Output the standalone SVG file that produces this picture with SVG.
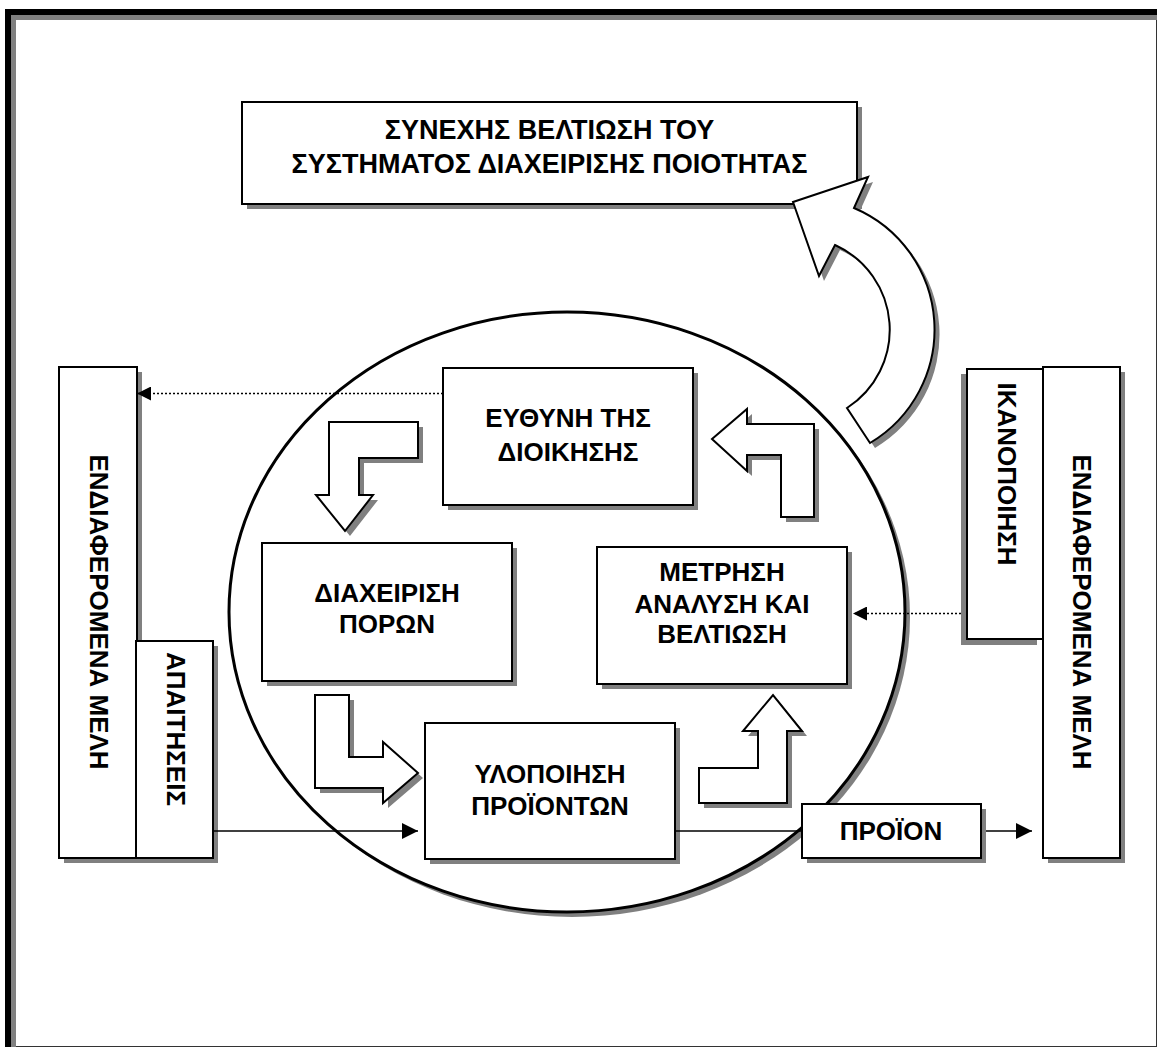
<svg xmlns="http://www.w3.org/2000/svg" xmlns:xlink="http://www.w3.org/1999/xlink" width="1158" height="1048" viewBox="0 0 1158 1048">
  <style>
    .box { fill: #ffffff; stroke: #000000; stroke-width: 2; }
    .shadow { fill: #808080; stroke: none; }
    .blk { fill: #ffffff; stroke: #000000; stroke-width: 2; stroke-linejoin: miter; }
    .lbl { font-family: "Liberation Sans", Arial, Helvetica, sans-serif; font-weight: bold; font-size: 26px; fill: #000000; text-anchor: middle; }
    .title { font-size: 27px; }
    .conn { stroke: #000000; stroke-width: 1.5; fill: none; }
    .dot { stroke: #000000; stroke-width: 1.5; stroke-dasharray: 2 2; fill: none; }
  </style>
  <defs>
    <marker id="head" viewBox="0 0 16 16" refX="16" refY="8" markerWidth="16" markerHeight="16" markerUnits="userSpaceOnUse" orient="auto">
      <path d="M0,0 L16,8 L0,16 Z" fill="#000000"/>
    </marker>
    <marker id="dothead" viewBox="0 0 14 14" refX="14" refY="7" markerWidth="14" markerHeight="14" markerUnits="userSpaceOnUse" orient="auto">
      <path d="M0,0 L14,7 L0,14 Z" fill="#000000"/>
    </marker>
  </defs>

  <rect width="1158" height="1048" fill="#ffffff"/>

  <!-- page frame -->
  <g id="frame">
    <rect x="5.5" y="9.5" width="1151" height="1037" fill="none" stroke="#333333" stroke-width="1"/>
    <rect x="5" y="9" width="1152" height="6" fill="#000000"/>
    <rect x="5" y="9" width="6" height="1038" fill="#000000"/>
    <rect x="11" y="15" width="1146" height="5" fill="#808080"/>
    <rect x="11" y="15" width="5" height="1032" fill="#808080"/>
  </g>

  <!-- process ellipse -->
  <g id="cycle">
    <ellipse cx="572" cy="617" rx="338" ry="300" class="shadow"/>
    <ellipse cx="567" cy="612" rx="338" ry="300" fill="#ffffff" stroke="#000000" stroke-width="3"/>
  </g>

  <g id="improvement">
    <rect x="247" y="107" width="615" height="102" class="shadow"/>
    <rect x="242" y="102" width="615" height="102" class="box"/>
    <text class="lbl title" x="549.5" y="139">ΣΥΝΕΧΗΣ ΒΕΛΤΙΩΣΗ ΤΟΥ</text>
    <text class="lbl title" x="549.5" y="173">ΣΥΣΤΗΜΑΤΟΣ ΔΙΑΧΕΙΡΙΣΗΣ ΠΟΙΟΤΗΤΑΣ</text>
  </g>

  <g id="curved-arrow">
    <path class="shadow" transform="translate(5,5)" d="M793,202 L868,177 L854,208 A132,132 0 0 1 870,443 L847,408 A93,93 0 0 0 835,245 L819,276 Z"/>
    <path class="blk" d="M793,202 L868,177 L854,208 A132,132 0 0 1 870,443 L847,408 A93,93 0 0 0 835,245 L819,276 Z"/>
  </g>

  <g id="management">
    <rect x="448" y="373" width="250" height="137" class="shadow"/>
    <rect x="443" y="368" width="250" height="137" class="box"/>
    <text class="lbl" x="568" y="427">ΕΥΘΥΝΗ ΤΗΣ</text>
    <text class="lbl" x="568" y="461">ΔΙΟΙΚΗΣΗΣ</text>
  </g>

  <g id="resources">
    <rect x="267" y="548" width="250" height="138" class="shadow"/>
    <rect x="262" y="543" width="250" height="138" class="box"/>
    <text class="lbl" x="387" y="602">ΔΙΑΧΕΙΡΙΣΗ</text>
    <text class="lbl" x="387" y="633">ΠΟΡΩΝ</text>
  </g>

  <g id="measurement">
    <rect x="602" y="552" width="250" height="137" class="shadow"/>
    <rect x="597" y="547" width="250" height="137" class="box"/>
    <text class="lbl" x="722" y="581">ΜΕΤΡΗΣΗ</text>
    <text class="lbl" x="722" y="613">ΑΝΑΛΥΣΗ ΚΑΙ</text>
    <text class="lbl" x="722" y="643">ΒΕΛΤΙΩΣΗ</text>
  </g>

  <g id="realisation">
    <rect x="430" y="728" width="250" height="136" class="shadow"/>
    <rect x="425" y="723" width="250" height="136" class="box"/>
    <text class="lbl" x="550" y="783">ΥΛΟΠΟΙΗΣΗ</text>
    <text class="lbl" x="550" y="815">ΠΡΟΪΟΝΤΩΝ</text>
  </g>

  <!-- block arrows of the cycle -->
  <g id="arrow-down">
    <path class="shadow" transform="translate(5,5)" d="M329,422 L418,422 L418,458 L359,458 L359,495 L373,495 L345,531 L316,495 L329,495 Z"/>
    <path class="blk" d="M329,422 L418,422 L418,458 L359,458 L359,495 L373,495 L345,531 L316,495 L329,495 Z"/>
  </g>
  <g id="arrow-right">
    <path class="shadow" transform="translate(5,5)" d="M315,695 L349,695 L349,757 L383,757 L383,742 L418,773 L383,803 L383,788 L315,788 Z"/>
    <path class="blk" d="M315,695 L349,695 L349,757 L383,757 L383,742 L418,773 L383,803 L383,788 L315,788 Z"/>
  </g>
  <g id="arrow-up">
    <path class="shadow" transform="translate(5,5)" d="M699,803 L699,768 L758,768 L758,731 L743,731 L773,695 L802,731 L787,731 L787,803 Z"/>
    <path class="blk" d="M699,803 L699,768 L758,768 L758,731 L743,731 L773,695 L802,731 L787,731 L787,803 Z"/>
  </g>
  <g id="arrow-left">
    <path class="shadow" transform="translate(5,5)" d="M781,517 L814,517 L814,424 L747,424 L747,409 L712,439 L747,471 L747,455 L781,455 Z"/>
    <path class="blk" d="M781,517 L814,517 L814,424 L747,424 L747,409 L712,439 L747,471 L747,455 L781,455 Z"/>
  </g>

  <!-- interested parties, input side -->
  <g id="parties-in">
    <rect x="64" y="372" width="78" height="491" class="shadow"/>
    <rect x="59" y="367" width="78" height="491" class="box"/>
    <text class="lbl" transform="translate(90,612) rotate(90)">ΕΝΔΙΑΦΕΡΟΜΕΝΑ ΜΕΛΗ</text>
  </g>
  <g id="requirements">
    <rect x="141" y="646" width="77" height="217" class="shadow"/>
    <rect x="136" y="641" width="77" height="217" class="box"/>
    <text class="lbl" transform="translate(167,729) rotate(90)">ΑΠΑΙΤΗΣΕΙΣ</text>
  </g>

  <!-- interested parties, output side -->
  <g id="parties-out">
    <rect x="1048" y="372" width="77" height="491" class="shadow"/>
    <rect x="1043" y="367" width="77" height="491" class="box"/>
    <text class="lbl" transform="translate(1073,612) rotate(90)">ΕΝΔΙΑΦΕΡΟΜΕΝΑ ΜΕΛΗ</text>
  </g>
  <g id="satisfaction">
    <rect x="961" y="374" width="76" height="271" class="shadow"/>
    <rect x="967" y="369" width="76" height="270" class="box"/>
    <text class="lbl" transform="translate(998,474) rotate(90)">ΙΚΑΝΟΠΟΙΗΣΗ</text>
  </g>

  <g id="connectors">
    <line class="dot" x1="443" y1="393.5" x2="137" y2="393.5" marker-end="url(#dothead)"/>
    <line class="dot" x1="961" y1="613.5" x2="853" y2="613.5" marker-end="url(#dothead)"/>
    <line class="conn" x1="213" y1="831" x2="418" y2="831" marker-end="url(#head)"/>
    <line class="conn" x1="675" y1="831" x2="802" y2="831"/>
    <line class="conn" x1="981" y1="831" x2="1032" y2="831" marker-end="url(#head)"/>
  </g>

  <g id="product">
    <rect x="807" y="809" width="179" height="54" class="shadow"/>
    <rect x="802" y="804" width="179" height="54" class="box"/>
    <text class="lbl" x="891" y="840">ΠΡΟΪΟΝ</text>
  </g>
</svg>
